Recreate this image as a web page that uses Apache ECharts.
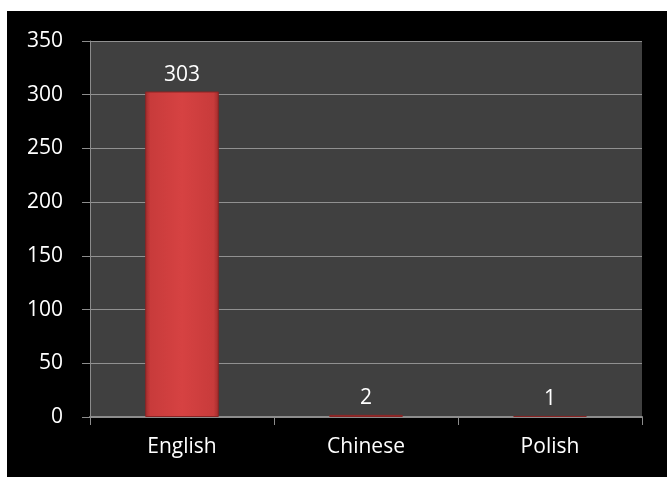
<!DOCTYPE html>
<html>
<head>
<meta charset="utf-8">
<script src="https://cdn.jsdelivr.net/npm/echarts@6/dist/echarts.min.js"></script>
<style>
  html, body { margin: 0; padding: 0; background: #ffffff; }
  #chart { position: absolute; left: 7px; top: 11px; width: 660px; height: 466px; }
</style>
</head>
<body>
<div id="chart"></div>
<script>
var languages = ['English', 'Chinese', 'Polish'];
var counts = [303, 2, 1];

var myChart = echarts.init(document.getElementById('chart'));

// red bar with darker sides, a bit like the bevelled look
var barColor = new echarts.graphic.LinearGradient(0, 0, 1, 0, [
    { offset: 0, color: '#a02c2c' },
    { offset: 0.07, color: '#c83b3b' },
    { offset: 0.5, color: '#d64242' },
    { offset: 0.93, color: '#c83b3b' },
    { offset: 1, color: '#a02c2c' }
]);

var option = {
    backgroundColor: '#000000',
    animation: false,
    textStyle: { fontFamily: 'Open Sans' },
    grid: {
        left: 83,
        right: 25,
        top: 30,
        bottom: 60,
        show: true,
        backgroundColor: '#404040',
        borderWidth: 0
    },
    xAxis: {
        type: 'category',
        data: languages,
        axisLine: { lineStyle: { color: '#8c8c8c', width: 2 } },
        axisTick: { show: true, length: 8, lineStyle: { color: '#8c8c8c' } },
        axisLabel: { color: '#ffffff', fontSize: 21, margin: 20 }
    },
    yAxis: {
        type: 'value',
        min: 0,
        max: 350,
        interval: 50,
        axisLine: { show: true, lineStyle: { color: '#8c8c8c' } },
        axisTick: { show: true, length: 8, lineStyle: { color: '#8c8c8c' } },
        axisLabel: { color: '#ffffff', fontSize: 21, margin: 27 },
        splitLine: { lineStyle: { color: '#919191', width: 1.2 } }
    },
    series: [{
        type: 'bar',
        data: counts,
        barWidth: '40%',
        itemStyle: {
            color: barColor,
            borderColor: '#8a2424',
            borderWidth: 1
        },
        label: {
            show: true,
            position: 'top',
            distance: 6,
            color: '#ffffff',
            fontSize: 21
        }
    }]
};

myChart.setOption(option);
</script>
</body>
</html>
